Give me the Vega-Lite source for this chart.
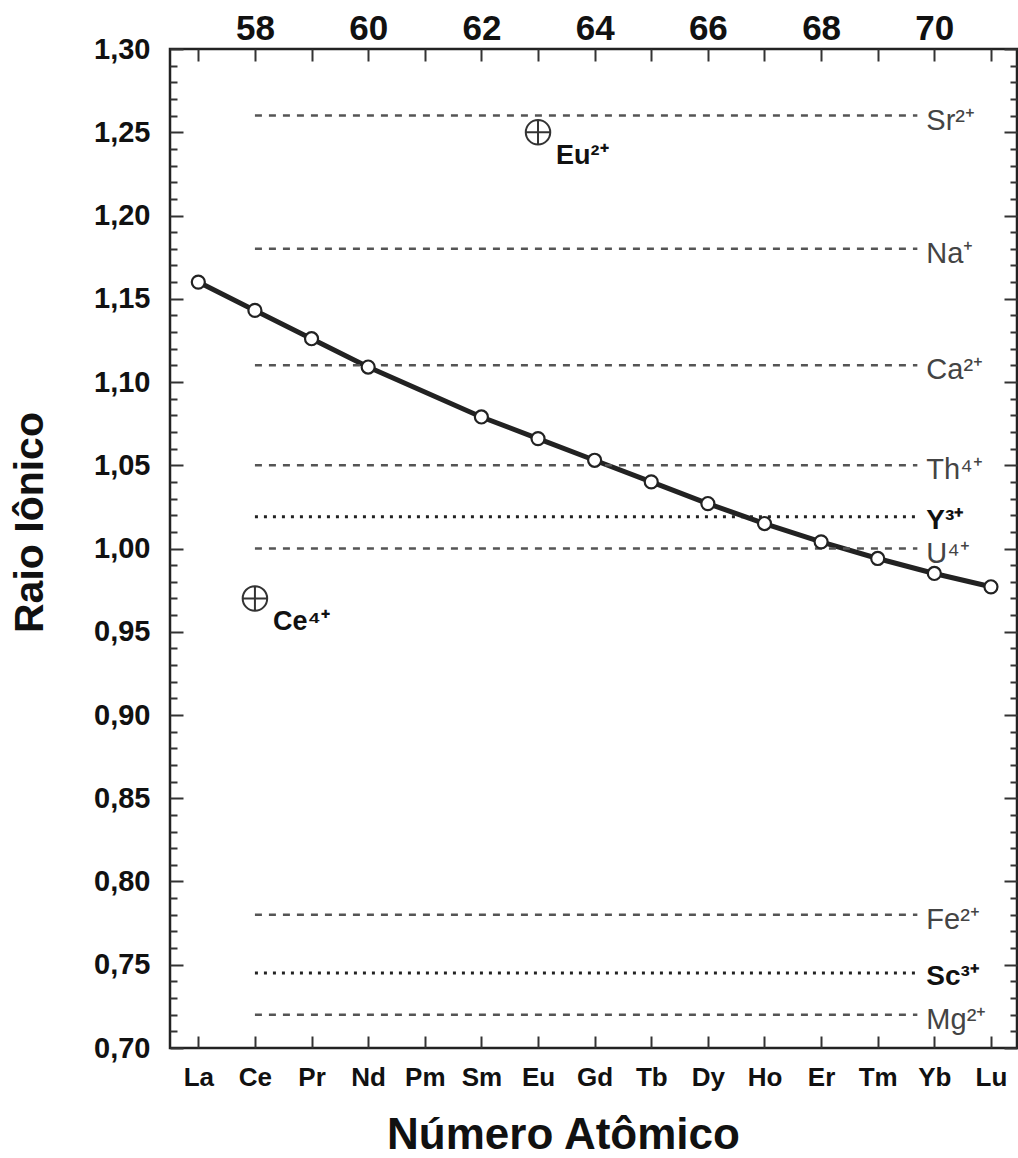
{
  "$schema": "https://vega.github.io/schema/vega-lite/v6.json",
  "width": 847,
  "height": 999,
  "autosize": "none",
  "padding": {"left": 170, "top": 49, "right": 1, "bottom": 110},
  "background": "white",
  "config": {
    "font": "Liberation Sans",
    "view": {"stroke": "#222", "strokeWidth": 2.5}
  },
  "datasets": {
    "lan": [
      {"el": "La", "z": 57, "r": 1.160},
      {"el": "Ce", "z": 58, "r": 1.143},
      {"el": "Pr", "z": 59, "r": 1.126},
      {"el": "Nd", "z": 60, "r": 1.109},
      {"el": "Sm", "z": 62, "r": 1.079},
      {"el": "Eu", "z": 63, "r": 1.066},
      {"el": "Gd", "z": 64, "r": 1.053},
      {"el": "Tb", "z": 65, "r": 1.040},
      {"el": "Dy", "z": 66, "r": 1.027},
      {"el": "Ho", "z": 67, "r": 1.015},
      {"el": "Er", "z": 68, "r": 1.004},
      {"el": "Tm", "z": 69, "r": 0.994},
      {"el": "Yb", "z": 70, "r": 0.985},
      {"el": "Lu", "z": 71, "r": 0.977}
    ],
    "ions": [
      {"ion": "Sr²⁺", "r": 1.26, "x1": 58, "x2": 69.7, "style": "dash"},
      {"ion": "Na⁺", "r": 1.18, "x1": 58, "x2": 69.7, "style": "dash"},
      {"ion": "Ca²⁺", "r": 1.11, "x1": 58, "x2": 69.7, "style": "dash"},
      {"ion": "Th⁴⁺", "r": 1.05, "x1": 58, "x2": 69.7, "style": "dash"},
      {"ion": "Y³⁺", "r": 1.019, "x1": 58, "x2": 69.7, "style": "dot"},
      {"ion": "U⁴⁺", "r": 1.00, "x1": 58, "x2": 69.7, "style": "dash"},
      {"ion": "Fe²⁺", "r": 0.78, "x1": 58, "x2": 69.7, "style": "dash"},
      {"ion": "Sc³⁺", "r": 0.745, "x1": 58, "x2": 69.7, "style": "dot"},
      {"ion": "Mg²⁺", "r": 0.72, "x1": 58, "x2": 69.7, "style": "dash"}
    ],
    "special": [
      {"ion": "Eu²⁺", "z": 63, "r": 1.25},
      {"ion": "Ce⁴⁺", "z": 58, "r": 0.97}
    ]
  },
  "layer": [
    {
      "data": {"name": "lan"},
      "mark": {"type": "line", "stroke": "#222", "strokeWidth": 5},
      "encoding": {
        "x": {
          "field": "z", "type": "quantitative",
          "scale": {"domain": [56.5, 71.46], "nice": false, "zero": false},
          "axis": {
            "orient": "bottom",
            "values": [57, 58, 59, 60, 61, 62, 63, 64, 65, 66, 67, 68, 69, 70, 71],
            "labelExpr": "['La','Ce','Pr','Nd','Pm','Sm','Eu','Gd','Tb','Dy','Ho','Er','Tm','Yb','Lu'][round(datum.value)-57]",
            "domain": false, "grid": false,
            "tickSize": -12, "tickWidth": 2, "tickColor": "#333",
            "labelPadding": 28, "labelBaseline": "top",
            "labelFontSize": 26, "labelFontWeight": "bold", "labelColor": "#111",
            "labelOverlap": false, "labelFlush": false, "labelBound": false,
            "title": "Número Atômico",
            "titleFontSize": 44, "titleFontWeight": "bold", "titleColor": "#111",
            "titleX": 393, "titleY": 100, "titleAlign": "center", "titleBaseline": "alphabetic", "titleAnchor": null
          }
        },
        "y": {
          "field": "r", "type": "quantitative",
          "scale": {"domain": [0.70, 1.30], "nice": false, "zero": false},
          "axis": {
            "orient": "left",
            "values": [0.70, 0.71, 0.72, 0.73, 0.74, 0.75, 0.76, 0.77, 0.78, 0.79, 0.80, 0.81, 0.82, 0.83, 0.84, 0.85, 0.86, 0.87, 0.88, 0.89, 0.90, 0.91, 0.92, 0.93, 0.94, 0.95, 0.96, 0.97, 0.98, 0.99, 1.00, 1.01, 1.02, 1.03, 1.04, 1.05, 1.06, 1.07, 1.08, 1.09, 1.10, 1.11, 1.12, 1.13, 1.14, 1.15, 1.16, 1.17, 1.18, 1.19, 1.20, 1.21, 1.22, 1.23, 1.24, 1.25, 1.26, 1.27, 1.28, 1.29, 1.30],
            "labelExpr": "round(datum.value*100)%5===0 ? replace(format(datum.value,'.2f'),'.',',') : ''",
            "domain": false, "grid": false,
            "tickSize": {"condition": {"test": "round(datum.value*100)%5===0", "value": -13}, "value": -7},
            "tickWidth": 2, "tickColor": "#333",
            "labelPadding": 33,
            "labelFontSize": 29, "labelFontWeight": "bold", "labelColor": "#111",
            "labelOverlap": false, "labelFlush": false, "labelBound": false,
            "title": "Raio Iônico",
            "titleFontSize": 41, "titleFontWeight": "bold", "titleColor": "#111",
            "titleX": -128, "titleY": 473, "titleAlign": "center", "titleBaseline": "alphabetic", "titleAngle": 270, "titleAnchor": null
          }
        }
      }
    },
    {
      "data": {"name": "ions"},
      "transform": [{"filter": "datum.style === 'dash'"}],
      "mark": {"type": "rule", "stroke": "#555", "strokeWidth": 2.5, "strokeDash": [7, 7]},
      "encoding": {
        "x": {
          "field": "x1", "type": "quantitative",
          "scale": {"domain": [56.5, 71.46], "nice": false, "zero": false},
          "axis": {
            "orient": "top",
            "values": [57, 58, 59, 60, 61, 62, 63, 64, 65, 66, 67, 68, 69, 70, 71],
            "labelExpr": "round(datum.value)%2===0 ? format(datum.value,'d') : ''",
            "domain": false, "grid": false,
            "tickSize": -12, "tickWidth": 2, "tickColor": "#333",
            "labelPadding": 22, "labelBaseline": "alphabetic",
            "labelFontSize": 35, "labelFontWeight": "bold", "labelColor": "#111",
            "labelOverlap": false, "labelFlush": false, "labelBound": false,
            "title": null
          }
        },
        "x2": {"field": "x2"},
        "y": {
          "field": "r", "type": "quantitative",
          "scale": {"domain": [0.70, 1.30], "nice": false, "zero": false},
          "axis": {
            "orient": "right",
            "values": [0.70, 0.71, 0.72, 0.73, 0.74, 0.75, 0.76, 0.77, 0.78, 0.79, 0.80, 0.81, 0.82, 0.83, 0.84, 0.85, 0.86, 0.87, 0.88, 0.89, 0.90, 0.91, 0.92, 0.93, 0.94, 0.95, 0.96, 0.97, 0.98, 0.99, 1.00, 1.01, 1.02, 1.03, 1.04, 1.05, 1.06, 1.07, 1.08, 1.09, 1.10, 1.11, 1.12, 1.13, 1.14, 1.15, 1.16, 1.17, 1.18, 1.19, 1.20, 1.21, 1.22, 1.23, 1.24, 1.25, 1.26, 1.27, 1.28, 1.29, 1.30],
            "labels": false,
            "domain": false, "grid": false,
            "tickSize": {"condition": {"test": "round(datum.value*100)%5===0", "value": -13}, "value": -7},
            "tickWidth": 2, "tickColor": "#333",
            "title": null
          }
        }
      }
    },
    {
      "data": {"name": "ions"},
      "transform": [{"filter": "datum.style === 'dot'"}],
      "mark": {"type": "rule", "stroke": "#222", "strokeWidth": 3, "strokeDash": [3, 6]},
      "encoding": {
        "x": {"field": "x1", "type": "quantitative", "scale": {"domain": [56.5, 71.46], "nice": false, "zero": false}, "axis": null},
        "x2": {"field": "x2"},
        "y": {"field": "r", "type": "quantitative", "scale": {"domain": [0.70, 1.30], "nice": false, "zero": false}, "axis": null}
      }
    },
    {
      "data": {"name": "ions"},
      "transform": [{"filter": "datum.style === 'dash'"}],
      "mark": {"type": "text", "align": "left", "baseline": "middle", "dx": 9, "dy": 5, "fontSize": 29, "color": "#444"},
      "encoding": {
        "x": {"field": "x2", "type": "quantitative", "scale": {"domain": [56.5, 71.46], "nice": false, "zero": false}, "axis": null},
        "y": {"field": "r", "type": "quantitative", "scale": {"domain": [0.70, 1.30], "nice": false, "zero": false}, "axis": null},
        "text": {"field": "ion"}
      }
    },
    {
      "data": {"name": "ions"},
      "transform": [{"filter": "datum.style === 'dot'"}],
      "mark": {"type": "text", "align": "left", "baseline": "middle", "dx": 9, "dy": 4, "fontSize": 28, "fontWeight": "bold", "color": "#111"},
      "encoding": {
        "x": {"field": "x2", "type": "quantitative", "scale": {"domain": [56.5, 71.46], "nice": false, "zero": false}, "axis": null},
        "y": {"field": "r", "type": "quantitative", "scale": {"domain": [0.70, 1.30], "nice": false, "zero": false}, "axis": null},
        "text": {"field": "ion"}
      }
    },
    {
      "data": {"name": "lan"},
      "mark": {"type": "point", "shape": "circle", "filled": true, "fill": "white", "stroke": "#222", "strokeWidth": 2.2, "size": 170, "opacity": 1},
      "encoding": {
        "x": {"field": "z", "type": "quantitative", "scale": {"domain": [56.5, 71.46], "nice": false, "zero": false}, "axis": null},
        "y": {"field": "r", "type": "quantitative", "scale": {"domain": [0.70, 1.30], "nice": false, "zero": false}, "axis": null}
      }
    },
    {
      "data": {"name": "special"},
      "mark": {"type": "point", "shape": "M-1,0A1,1 0 1,0 1,0A1,1 0 1,0 -1,0ZM-1,0L1,0M0,-1L0,1", "filled": false, "stroke": "#333", "strokeWidth": 2, "size": 600, "opacity": 1},
      "encoding": {
        "x": {"field": "z", "type": "quantitative", "scale": {"domain": [56.5, 71.46], "nice": false, "zero": false}, "axis": null},
        "y": {"field": "r", "type": "quantitative", "scale": {"domain": [0.70, 1.30], "nice": false, "zero": false}, "axis": null}
      }
    },
    {
      "data": {"name": "special"},
      "mark": {"type": "text", "align": "left", "baseline": "middle", "dx": 18, "dy": 24, "fontSize": 27, "fontWeight": "bold", "color": "#111"},
      "encoding": {
        "x": {"field": "z", "type": "quantitative", "scale": {"domain": [56.5, 71.46], "nice": false, "zero": false}, "axis": null},
        "y": {"field": "r", "type": "quantitative", "scale": {"domain": [0.70, 1.30], "nice": false, "zero": false}, "axis": null},
        "text": {"field": "ion"}
      }
    }
  ],
  "resolve": {"axis": {"x": "independent", "y": "independent"}}
}
